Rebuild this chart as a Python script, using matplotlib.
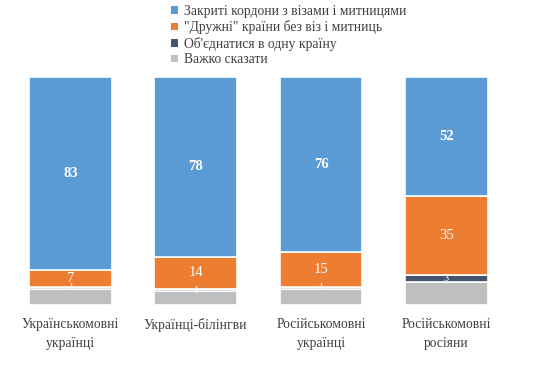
import numpy as np
from matplotlib import pyplot as plt
from matplotlib.patches import Patch

plt.rcParams['font.family'] = ['Liberation Serif', 'DejaVu Serif']

categories = ['Українськомовні\nукраїнці', 'Українці-білінгви',
              'Російськомовні\nукраїнці', 'Російськомовні\nросіяни']
closed = [83, 78, 76, 52]
friendly = [7, 14, 15, 35]
unite = [1, 1, 1, 3]
unsure = [7, 6, 7, 10]

series_names = ['Закриті кордони з візами і митницями',
                '"Дружні" країни без віз і митниць',
                "Об'єднатися в одну країну",
                'Важко сказати']
colors = ['#5B9BD5', '#ED7D31', '#44546A', '#BFBFBF']
text_col = '#404040'

fig = plt.figure(figsize=(5.52, 3.65), dpi=100)
ax = fig.add_axes([0.014, 0.164, 0.908, 0.625])

x = np.arange(len(categories))
data = np.array([unsure, unite, friendly, closed], dtype=float)
pct = data / data.sum(axis=0) * 100
stack_cols = [colors[3], colors[2], colors[1], colors[0]]
label_size = [9, 7.5, 10.5, 10.5]

bottom = np.zeros(len(categories))
for i, (vals, raw) in enumerate(zip(pct, data)):
  ax.bar(x, vals, bottom=bottom, width=0.66, color=stack_cols[i],
         edgecolor='white', linewidth=1.2)
  for xi, b, v, r in zip(x, bottom, vals, raw):
    if i == 0:
      continue
    weight = 'bold' if i == 3 else 'normal'
    ax.text(xi, b + v / 2, '%d' % r, ha='center', va='center',
            color='white', fontsize=label_size[i], fontweight=weight)
  bottom += vals

ax.set_xlim(-0.5, 3.5)
ax.set_ylim(0, 100)
ax.axis('off')

for xi, lab in zip(x, categories):
  ax.text(xi, -5.5, lab, ha='center', va='top', fontsize=9.8,
          color=text_col, linespacing=1.6)

handles = [Patch(facecolor=c, edgecolor='none') for c in colors]
fig.legend(handles, series_names, loc='upper left', bbox_to_anchor=(0.288, 1.02),
           frameon=False, fontsize=9.8, handlelength=0.5, handleheight=0.5,
           handletextpad=0.45, labelspacing=0.18, labelcolor=text_col)

fig.savefig('out.png', dpi=100)
